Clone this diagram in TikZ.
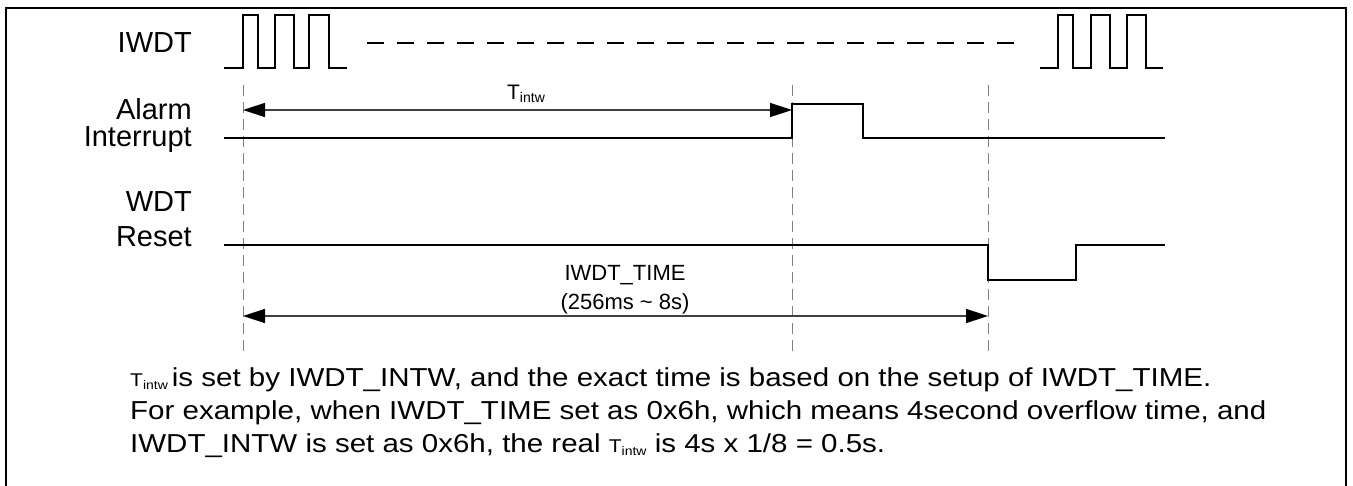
\documentclass[tikz,border=0pt]{standalone}
\usepackage{fontspec}
\setmainfont{Liberation Sans}
\usetikzlibrary{arrows.meta}
\definecolor{guidegray}{RGB}{128,128,128}
\definecolor{arrowgray}{RGB}{64,64,64}
\newcommand{\Tintw}{{\fontsize{21}{24}\selectfont T\raisebox{-3pt}{\fontsize{14}{16}\selectfont intw}}}
\newcommand{\squash}[1]{\scalebox{1}[0.88]{#1}}
\begin{document}
\begin{tikzpicture}[x=1pt,y=-1pt,
  sig/.style={line width=1.8pt, line join=miter, black},
  guide/.style={guidegray, line width=1pt, dash pattern=on 11pt off 6pt},
  span/.style={arrowgray, line width=1.5pt,
    {Triangle[length=22pt,width=14pt,color=black]}-{Triangle[length=22pt,width=14pt,color=black]}},
  lbl/.style={anchor=base east, inner sep=0pt, font=\fontsize{29}{34}\selectfont},
  note/.style={anchor=base west, inner sep=0pt, font=\fontsize{29.5}{34}\selectfont},
  small/.style={inner sep=0pt, font=\fontsize{22}{26}\selectfont}]
\useasboundingbox (0,0) rectangle (1353,486);
\draw[line width=2pt] (6,486) -- (6,8) -- (1346,8) -- (1346,486);

% guide lines
\coordinate (g1t) at (243,85);  \coordinate (g1b) at (243,356);
\coordinate (g2t) at (792,85);  \coordinate (g2b) at (792,356);
\coordinate (g3t) at (988,85);  \coordinate (g3b) at (988,356);
\draw[guide] (g1t) -- (g1b);
\draw[guide] (g2t) -- (g2b);
\draw[guide] (g3t) -- (g3b);

% labels
\node[lbl] (lIWDT) at (192,53) {IWDT};
\node[lbl] (lAlarm) at (192,120) {Alarm};
\node[lbl] (lInt) at (192,147) {Interrupt};
\node[lbl] (lWDT) at (192,212) {WDT};
\node[lbl] (lReset) at (192,247) {Reset};

% IWDT clock
\draw[sig] (224,68) -- (243,68) -- (243,15) -- (258,15) -- (258,68) -- (275,68) -- (275,15) -- (294,15) -- (294,68) -- (309,68) -- (309,15) -- (329,15) -- (329,68) -- (347,68);
\draw[sig, dash pattern=on 17pt off 13pt] (367,43) -- (1015,43);
\draw[sig] (1040,68) -- (1058,68) -- (1058,15) -- (1073,15) -- (1073,68) -- (1091,68) -- (1091,15) -- (1110,15) -- (1110,68) -- (1127,68) -- (1127,15) -- (1146,15) -- (1146,68) -- (1163,68);

% Alarm interrupt
\draw[sig] (224,138) -- (792,138) -- (792,104) -- (863,104) -- (863,138) -- (1165,138);
\coordinate (a1) at (243,110); \coordinate (a2) at (792,110);
\draw[span] (a1) -- (a2);
\node[inner sep=0pt, anchor=base] (tl) at (526,100) {\Tintw};

% WDT reset
\draw[sig] (224,245) -- (988,245) -- (988,280) -- (1076,280) -- (1076,245) -- (1165,245);
\coordinate (b1) at (243,316); \coordinate (b2) at (988,316);
\draw[span] (b1) -- (b2);
\node[small, anchor=base] (tt) at (625,281) {IWDT\_TIME};
\node[small, anchor=base] (tr) at (625,310) {(256ms \textasciitilde{} 8s)};

% notes
\node[note] (n1) at (130,387) {\squash{\Tintw\hspace{4pt}is set by IWDT\_INTW, and the exact time is based on the setup of IWDT\_TIME.}};
\node[note] (n2) at (130,420) {\squash{For example, when IWDT\_TIME set as 0x6h, which means 4second overflow time, and}};
\node[note] (n3) at (130,453) {\squash{IWDT\_INTW is set as 0x6h, the real \Tintw{} is 4s x 1/8 = 0.5s.}};
\end{tikzpicture}
\end{document}
